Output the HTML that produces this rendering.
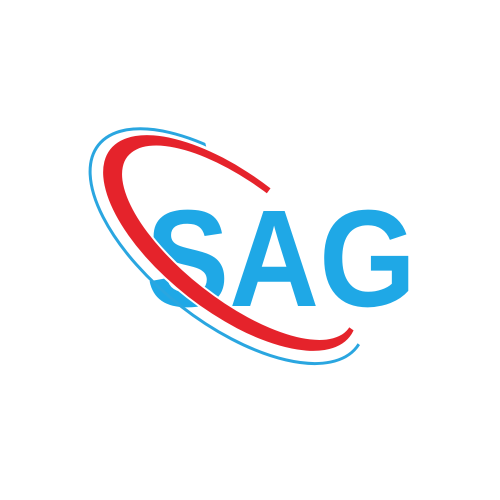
<!DOCTYPE html>
<html><head><meta charset="utf-8"><style>
html,body{margin:0;padding:0;background:#fff;width:500px;height:500px;overflow:hidden}
</style></head><body>
<svg width="500" height="500" viewBox="0 0 500 500">
  <defs>
    <clipPath id="redClip"><polygon points="230,243 410,0 0,0 0,500 500,500 500,434"/></clipPath>
    <clipPath id="blueClip"><polygon points="230,243 170,0 0,0 0,500 500,500 500,455"/></clipPath>
  </defs>
  <rect width="500" height="500" fill="#fff"/>
  <text x="146" y="306" font-family="Liberation Sans, Arial, sans-serif" font-weight="bold" font-size="138" fill="#1fa8e6" textLength="270" lengthAdjust="spacingAndGlyphs">SAG</text>
  <g clip-path="url(#blueClip)">
    <g transform="translate(230,243) rotate(38)">
      <ellipse cx="0" cy="4" rx="164" ry="76" fill="none" stroke="#2aa6e0" stroke-width="3"/>
    </g>
  </g>
  <g clip-path="url(#redClip)">
    <g transform="translate(230,243) rotate(38)">
      <path d="M -152,0 a152,68 0 1,0 304,0 a152,68 0 1,0 -304,0 Z M -134,-5 a140,57 0 1,0 280,0 a140,57 0 1,0 -280,0 Z" fill-rule="evenodd" fill="#e5232b" stroke="#fff" stroke-width="4" paint-order="stroke"/>
    </g>
  </g>
</svg>
</body></html>
